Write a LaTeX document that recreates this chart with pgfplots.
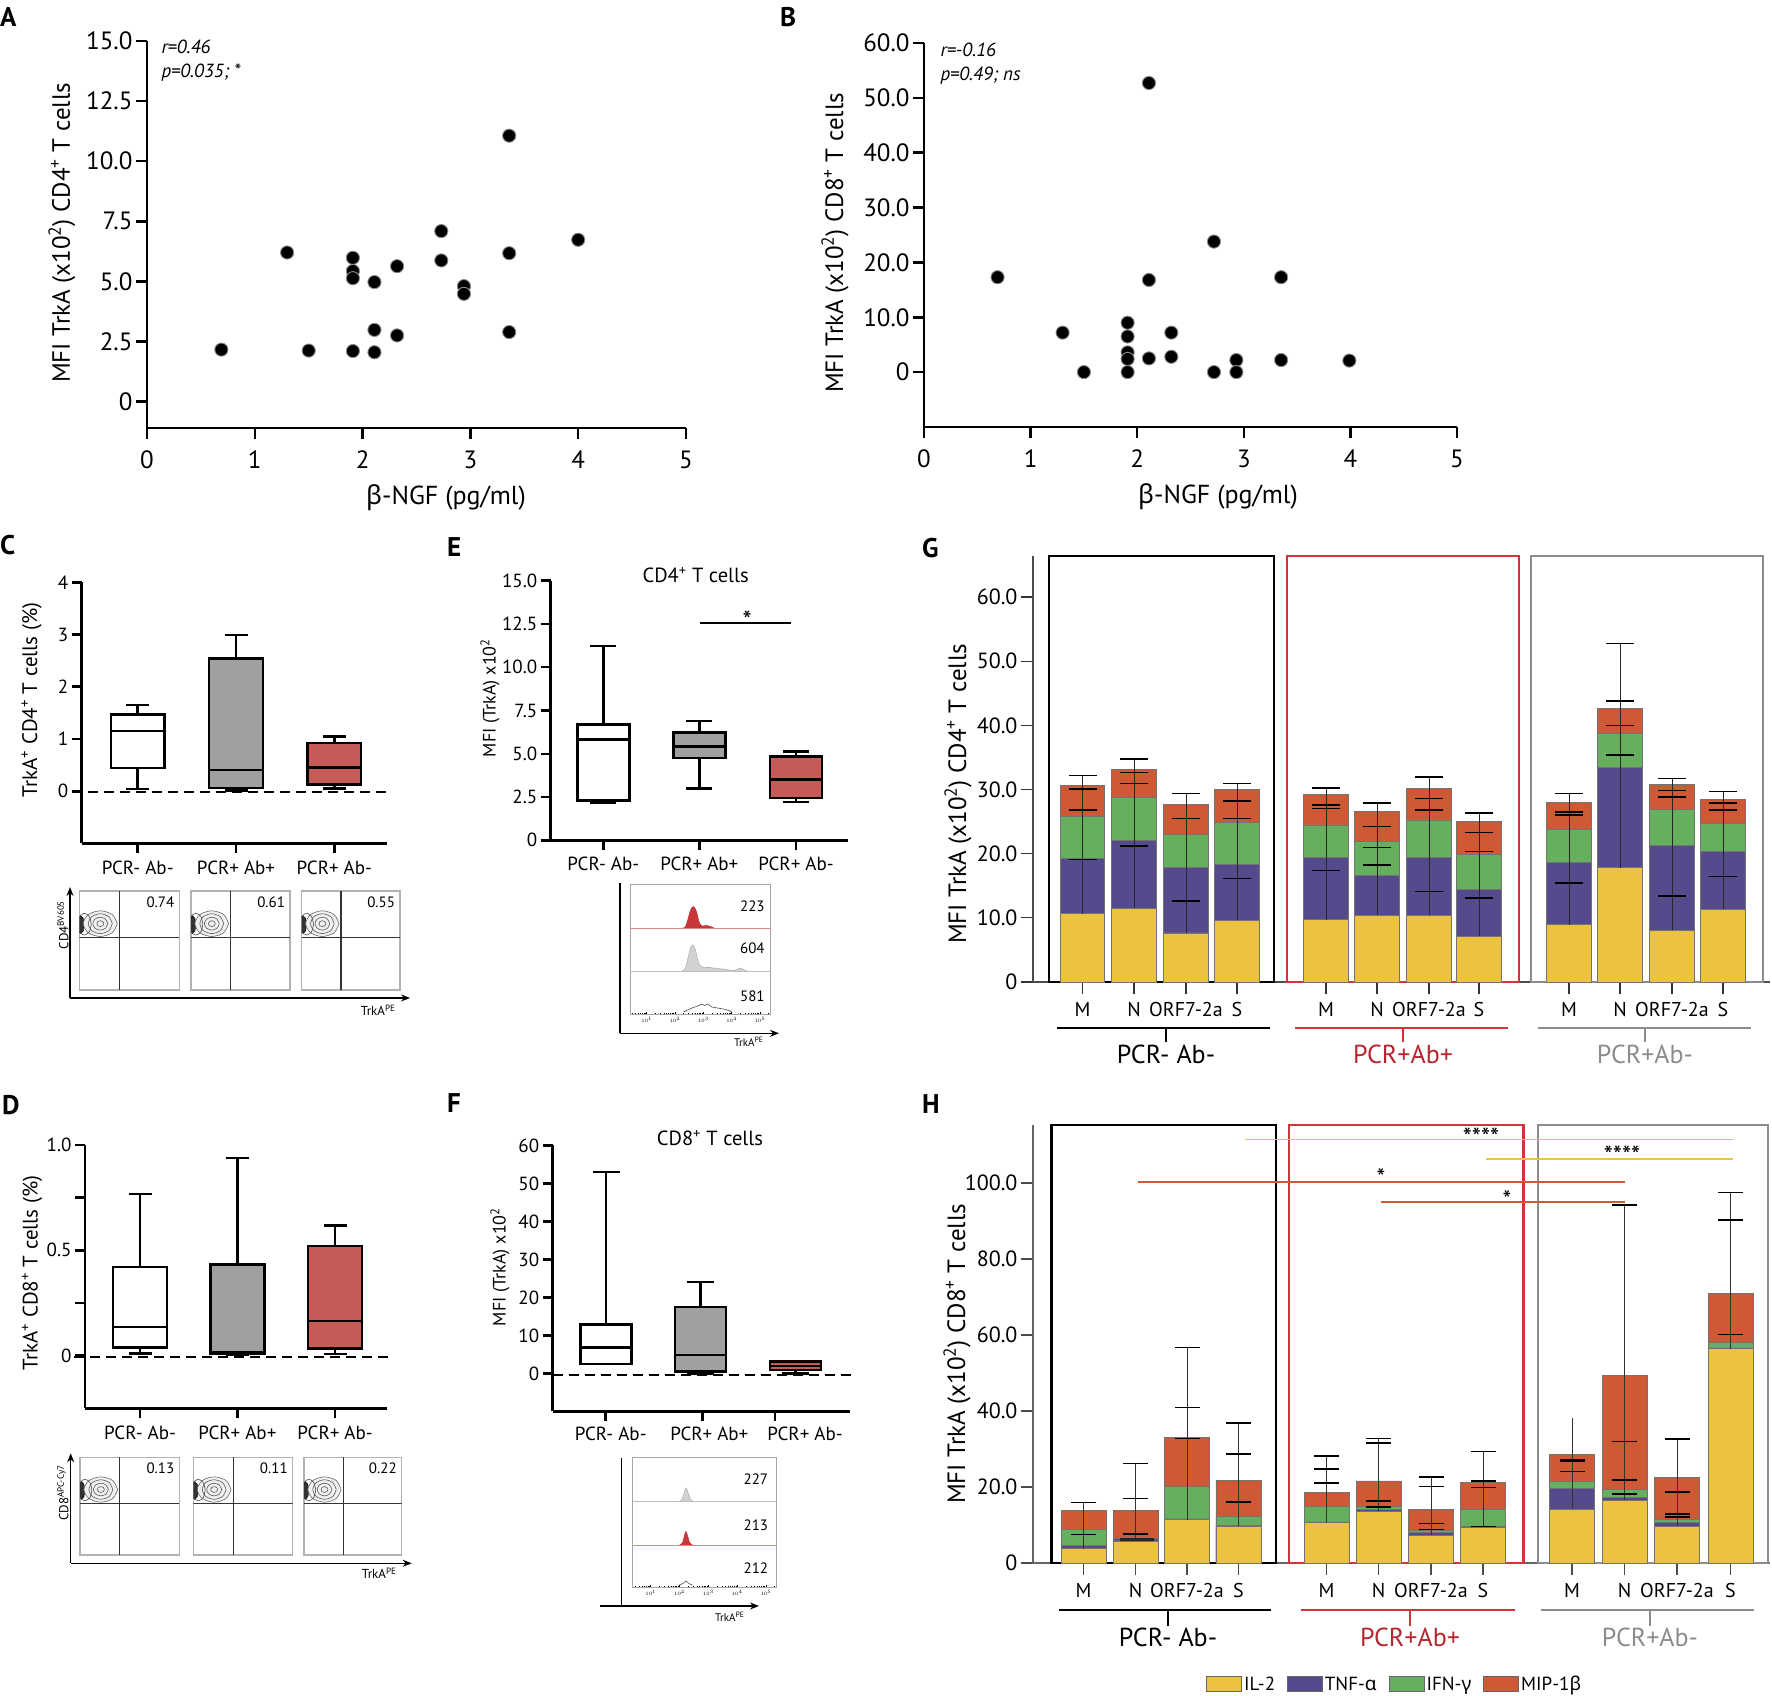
\documentclass[border=0pt]{standalone}
\usepackage{fontspec}
\setmainfont{PT Sans}
\newfontfamily\grk{Noto Sans}
\usepackage{pgfplots}
\pgfplotsset{compat=1.18}
\usepackage{pgfplotstable}
\usetikzlibrary{arrows.meta}

\definecolor{cIL}{HTML}{EBC341}
\definecolor{cTNF}{HTML}{544A8C}
\definecolor{cIFN}{HTML}{66AF5F}
\definecolor{cMIP}{HTML}{CE5A35}
\definecolor{boxred}{HTML}{C75B57}
\definecolor{boxgray}{HTML}{A0A0A0}
\definecolor{grpred}{HTML}{D2343A}
\definecolor{grpgray}{HTML}{8C8C8C}
\definecolor{lblred}{HTML}{B5262F}
\definecolor{histred}{HTML}{C8363A}

\newcommand{\fs}[1]{\fontsize{#1}{#1}\selectfont}

\pgfplotstableread{
x y
0.69 2.16
1.30 6.20
1.50 2.12
1.91 5.98
1.91 5.43
1.91 5.13
1.91 2.10
2.11 4.97
2.11 2.98
2.11 2.05
2.32 5.63
2.32 2.75
2.73 7.09
2.73 5.87
2.94 4.80
2.94 4.48
3.36 11.06
3.36 6.17
3.36 2.89
4.00 6.73
}\Adata

\pgfplotstableread{
x y
0.69 17.3
1.30 7.2
1.50 0.0
1.91 9.0
1.91 6.5
1.91 3.6
1.91 2.4
1.91 0.0
2.11 52.7
2.11 16.8
2.11 2.5
2.32 7.2
2.32 2.8
2.72 23.8
2.72 0.0
2.93 2.2
2.93 0.0
3.35 17.3
3.35 2.2
3.99 2.1
}\Bdata

\pgfplotstableread{
x il tnf ifn mip
1082.5 10.66 19.29 25.85 30.66
1134 11.48 22.02 28.74 33.06
1186 7.65 17.81 22.95 27.65
1237 9.62 18.31 24.92 29.95
1326 9.73 19.45 24.48 29.23
1377 10.44 16.67 21.86 26.56
1429 10.44 19.45 25.25 30.11
1479 7.16 14.37 19.84 25.03
1569 8.91 18.63 23.83 28.03
1620 17.81 33.39 38.69 42.62
1672 8.09 21.31 26.94 30.77
1723 11.37 20.38 24.75 28.42
}\Gbars

\pgfplotstableread{
x lo len
1082.5 10.66 21.53
1134 11.48 23.27
1186 7.65 21.75
1237 9.62 21.31
1326 9.73 20.49
1377 10.44 17.48
1429 10.44 21.53
1479 7.16 19.18
1569 8.91 20.49
1620 17.81 34.92
1672 8.09 23.66
1723 11.37 18.30
}\Glines

\pgfplotstableread{
x y
1082.5 32.19
1082.5 30.11
1082.5 26.83
1082.5 19.13
1134 34.75
1134 32.68
1134 30.93
1134 21.2
1186 29.4
1186 25.46
1186 12.62
1237 30.93
1237 28.2
1237 25.46
1237 16.12
1326 30.22
1326 27.6
1326 27.05
1326 17.38
1377 27.92
1377 24.21
1377 20.93
1377 18.2
1429 31.97
1429 28.58
1429 26.83
1429 14.1
1479 26.34
1479 23.28
1479 20.33
1479 13.11
1569 29.4
1569 26.5
1569 26.01
1569 15.46
1620 52.73
1620 43.77
1620 39.95
1620 35.41
1672 31.75
1672 29.84
1672 28.85
1672 13.44
1723 29.67
1723 27.92
1723 26.78
1723 16.45
}\Gcaps

\pgfplotstableread{
x il tnf ifn mip
1083.5 3.77 4.58 8.86 13.95
1135.5 5.8 6.52 6.6 13.95
1187 11.4 11.6 20.06 33.1
1238.4 9.67 9.88 12.2 21.8
1326.6 10.6 10.8 15.0 18.5
1378.7 13.65 14.15 14.8 21.6
1431 7.33 8.04 8.66 14.05
1483 9.37 9.57 14.15 21.3
1572 14.15 19.55 21.4 28.5
1624.5 16.5 17.2 19.25 49.3
1677 9.67 10.7 11.4 22.6
1730.5 56.4 56.6 58.0 71.0
}\Hbars

\pgfplotstableread{
x lo len
1083.5 3.77 12.22
1135.5 5.8 20.37
1187 11.4 45.3
1238.4 9.67 27.23
1326.6 10.6 17.5
1378.7 13.65 19.15
1431 7.33 15.27
1483 9.37 20.03
1572 14.15 23.95
1624.5 16.5 77.7
1677 9.67 22.93
1730.5 56.4 41.1
}\Hlines

\pgfplotstableread{
x y
1083.5 15.99
1083.5 7.54
1135.5 26.17
1135.5 17.0
1135.5 7.64
1187 56.7
1187 40.9
1187 32.8
1238.4 36.9
1238.4 28.7
1238.4 16.0
1326.6 28.1
1326.6 24.8
1326.6 21.1
1378.7 32.8
1378.7 31.6
1378.7 16.3
1378.7 14.8
1431 22.6
1431 20.1
1431 10.4
1431 8.86
1483 29.4
1483 21.6
1483 19.9
1483 9.67
1572 27.2
1572 26.8
1572 24.1
1624.5 94.2
1624.5 32.0
1624.5 21.9
1624.5 18.2
1677 32.6
1677 18.7
1677 12.9
1677 12.1
1730.5 97.5
1730.5 90.3
1730.5 60.1
}\Hcaps

\pgfplotsset{
  panel/.style={scale only axis, anchor=south west, clip=false,
    /pgf/number format/assume math mode=true,
    tick align=outside, axis x line*=bottom, axis y line*=left,
    axis line style={line width=2.5pt}, tick style={line width=2.5pt, black},
    major tick length=10pt},
  boxlegend/.style={legend image code/.code={\draw[##1] (0pt,-7.75pt) rectangle (35pt,7.75pt);}},
}

% fill, pos, lw, lq, med, uq, uw, box width, whisker cap width
\newcommand{\bp}[9]{%
\pgfmathsetmacro\bxl{#2-#8/2}\pgfmathsetmacro\bxr{#2+#8/2}%
\pgfmathsetmacro\bwl{#2-#9/2}\pgfmathsetmacro\bwr{#2+#9/2}%
\addplot[black, line width=2.5pt] coordinates {(#2,#3)(#2,#7)};
\addplot[black, line width=2.5pt] coordinates {(\bwl,#3)(\bwr,#3)};
\addplot[black, line width=2.5pt] coordinates {(\bwl,#7)(\bwr,#7)};
\addplot[fill=#1, draw=black, line width=2.5pt] coordinates {(\bxl,#4)(\bxr,#4)(\bxr,#6)(\bxl,#6)} -- cycle;
\addplot[black, line width=2.5pt] coordinates {(\bxl,#5)(\bxr,#5)};
}

\newcommand{\stackbars}[2]{%
\addplot[ybar, bar width=#2, bar shift=0pt, fill=cMIP, draw=black!55, line width=0.8pt, forget plot] table[x=x,y=mip] {#1};
\addplot[ybar, bar width=#2, bar shift=0pt, fill=cIFN, draw=black!55, line width=0.8pt, forget plot] table[x=x,y=ifn] {#1};
\addplot[ybar, bar width=#2, bar shift=0pt, fill=cTNF, draw=black!55, line width=0.8pt, forget plot] table[x=x,y=tnf] {#1};
\addplot[ybar, bar width=#2, bar shift=0pt, fill=cIL, draw=black!55, line width=0.8pt, forget plot] table[x=x,y=il] {#1};
}

\newcommand{\flowblob}{%
\addplot[fill=black!80, draw=black, line width=0.4pt] coordinates {(0.05,0.66)(0.04,0.724)(0.015,0.75)(-0.01,0.724)(-0.02,0.66)(-0.01,0.596)(0.015,0.57)(0.04,0.596)(0.05,0.66)};
\addplot[draw=black!60, fill=black!6, line width=0.6pt, smooth] coordinates {(0.38,0.67)(0.330,0.762)(0.21,0.80)(0.090,0.762)(0.04,0.67)(0.090,0.578)(0.21,0.54)(0.330,0.578)(0.38,0.67)};
\addplot[draw=black!65, line width=0.6pt, smooth] coordinates {(0.33,0.67)(0.295,0.741)(0.21,0.77)(0.125,0.741)(0.09,0.67)(0.125,0.599)(0.21,0.57)(0.295,0.599)(0.33,0.67)};
\addplot[draw=black!65, line width=0.6pt, smooth] coordinates {(0.285,0.67)(0.263,0.716)(0.21,0.735)(0.157,0.716)(0.135,0.67)(0.157,0.624)(0.21,0.605)(0.263,0.624)(0.285,0.67)};
\addplot[draw=black!65, line width=0.6pt, smooth] coordinates {(0.245,0.67)(0.235,0.691)(0.21,0.70)(0.185,0.691)(0.175,0.67)(0.185,0.649)(0.21,0.64)(0.235,0.649)(0.245,0.67)};
\addplot[draw=black!70, line width=0.6pt, smooth] coordinates {(0.12,0.665)(0.10,0.743)(0.05,0.775)(0.0,0.743)(-0.02,0.665)(0.0,0.587)(0.05,0.555)(0.10,0.587)(0.12,0.665)};
}

% x, y, w, h, number, horizontal quadrant line
\newcommand{\flowaxis}[6]{%
\begin{axis}[scale only axis, anchor=south west, at={(#1pt,#2pt)}, width=#3pt, height=#4pt,
  xmin=0, xmax=1, ymin=0, ymax=1, xtick=\empty, ytick=\empty,
  axis line style={draw=gray!60, line width=1.2pt}]
\flowblob
\addplot[black!80, line width=1.1pt] coordinates {(0.4,0) (0.4,1)};
\addplot[black!80, line width=1.1pt] coordinates {(0,#6) (1,#6)};
\node[anchor=east, font=\fs{15}] at (axis cs:0.985,0.89) {#5};
\end{axis}}

\pgfplotsset{histstyle/.style={scale only axis, anchor=south west, ytick=\empty,
  xtick={1,2,3,4,5}, xticklabels={$10^1$,$10^2$,$10^3$,$10^4$,$10^5$},
  xtick pos=bottom, tick align=inside, major tick length=3pt, minor tick length=1.5pt,
  minor xtick={0.477,0.602,0.699,0.778,0.845,0.903,0.954,1.301,1.477,1.602,1.699,1.778,1.845,1.903,1.954,2.301,2.477,2.602,2.699,2.778,2.845,2.903,2.954,3.301,3.477,3.602,3.699,3.778,3.845,3.903,3.954,4.301,4.477,4.602,4.699,4.778,4.845,4.903,4.954,5.301},
  xticklabel style={font=\fs{5}, yshift=1pt},
  axis line style={draw=gray!70, line width=1pt}, tick style={black, line width=0.5pt}}}

\begin{document}
\begin{tikzpicture}
\useasboundingbox (0pt,0pt) rectangle (1772pt,1696pt);

% ---------------- Panel letters
\foreach \L/\X/\Y in {A/0/1689, B/780/1689, C/0/1161, D/2/601, E/447/1159, F/447/603, G/922/1158, H/922/602}
  \node[anchor=north west, inner sep=0pt, font=\bfseries\fs{27}] at (\X pt,\Y pt) {\L};

% ---------------- A
\begin{axis}[panel, at={(147pt,1268pt)}, width=539pt, height=387pt,
  xmin=0, xmax=5, ymin=-1.1, ymax=15,
  xtick={0,1,2,3,4,5}, ytick={0,2.5,5,7.5,10,12.5,15},
  yticklabels={0,2.5,5.0,7.5,10.0,12.5,15.0},
  major tick length=11pt, tick label style={font=\fs{25}}, xticklabel style={yshift=-8pt}]
\addplot[only marks, mark=*, mark size=6.6pt, mark options={fill=black, draw=black!45, line width=0.9pt}] table {\Adata};
\end{axis}
\node[rotate=90, font=\fs{25}] at (62pt,1463pt) {MFI TrkA (x10\textsuperscript{2}) CD4\textsuperscript{+} T cells};
\node[font=\fs{26}] at (446pt,1198.5pt) {{\grk β}-NGF (pg/ml)};
\node[anchor=west, font=\fs{19}\itshape] at (158pt,1649pt) {r=0.46};
\node[anchor=west, font=\fs{19}\itshape] at (158pt,1623pt) {p=0.035; *};

% ---------------- B
\begin{axis}[panel, at={(924pt,1269pt)}, width=533pt, height=384pt,
  xmin=0, xmax=5, ymin=-10, ymax=60,
  xtick={0,1,2,3,4,5}, ytick={0,10,20,30,40,50,60},
  yticklabels={0,10.0,20.0,30.0,40.0,50.0,60.0},
  major tick length=11pt, tick label style={font=\fs{25}}, xticklabel style={yshift=-8pt}]
\addplot[only marks, mark=*, mark size=6.6pt, mark options={fill=black, draw=black!45, line width=0.9pt}] table {\Bdata};
\end{axis}
\node[rotate=90, font=\fs{25}] at (835pt,1453pt) {MFI TrkA (x10\textsuperscript{2}) CD8\textsuperscript{+} T cells};
\node[font=\fs{26}] at (1218pt,1199.5pt) {{\grk β}-NGF (pg/ml)};
\node[anchor=west, font=\fs{19}\itshape] at (937pt,1646pt) {r=-0.16};
\node[anchor=west, font=\fs{19}\itshape] at (937pt,1620pt) {p=0.49; ns};

% ---------------- C
\begin{axis}[panel, at={(81.7pt,852.7pt)}, width=305pt, height=261pt,
  xmin=0, xmax=305, ymin=-1, ymax=4,
  xtick={56,154.3,252.6}, xticklabels={PCR- Ab-,PCR+ Ab+,PCR+ Ab-},
  ytick={0,1,2,3,4}, tick label style={font=\fs{19}}, xticklabel style={yshift=-4pt}]
\addplot[black, line width=2pt, dash pattern=on 10pt off 6pt] coordinates {(-10,-0.02) (305,-0.02)};
\bp{white}{56}{0.04}{0.44}{1.15}{1.47}{1.65}{53.7}{23}
\bp{boxgray}{154.3}{0.01}{0.06}{0.40}{2.54}{2.99}{53.7}{23}
\bp{boxred}{252.6}{0.045}{0.13}{0.455}{0.92}{1.05}{53.7}{23}
\end{axis}
\node[rotate=90, font=\fs{21}] at (31.7pt,996pt) {TrkA\textsuperscript{+} CD4\textsuperscript{+} T cells (\%)};
\flowaxis{79.3}{706}{100}{99}{0.74}{0.532}
\flowaxis{191}{706}{99}{99}{0.61}{0.532}
\flowaxis{301.7}{706}{98.3}{99}{0.55}{0.532}
\draw[line width=1.2pt, -{Stealth[length=9pt,width=7pt]}] (70pt,698pt) -- (70pt,809pt);
\draw[line width=1.2pt, -{Stealth[length=9pt,width=7pt]}] (70pt,698pt) -- (410pt,698pt);
\node[rotate=90, font=\fs{13}] at (63pt,771pt) {CD4\textsuperscript{BV605}};
\node[anchor=east, font=\fs{13}] at (399pt,686pt) {TrkA\textsuperscript{PE}};

% ---------------- D
\begin{axis}[panel, at={(85pt,287.7pt)}, width=301.7pt, height=263.3pt,
  xmin=0, xmax=301.7, ymin=-0.25, ymax=1.0,
  xtick={55,152.3,250}, xticklabels={PCR- Ab-,PCR+ Ab+,PCR+ Ab-},
  ytick={0,0.25,0.5,0.75,1}, yticklabels={0,,0.5,,1.0}, tick label style={font=\fs{19}},
  xticklabel style={yshift=-4pt}]
\addplot[black, line width=2pt, dash pattern=on 10pt off 6pt] coordinates {(-11,-0.005) (303,-0.005)};
\bp{white}{55}{0.011}{0.038}{0.137}{0.42}{0.767}{54}{23}
\bp{boxgray}{152.3}{0.003}{0.011}{0.016}{0.433}{0.938}{54}{23}
\bp{boxred}{250}{0.008}{0.033}{0.164}{0.52}{0.617}{54}{23}
\end{axis}
\node[rotate=90, font=\fs{21}] at (32pt,423pt) {TrkA\textsuperscript{+} CD8\textsuperscript{+} T cells (\%)};
\flowaxis{80}{141}{99.3}{97.7}{0.13}{0.53}
\flowaxis{193.3}{141}{99.4}{97.7}{0.11}{0.53}
\flowaxis{304}{141}{97.7}{97.7}{0.22}{0.53}
\draw[line width=1.2pt, -{Stealth[length=9pt,width=7pt]}] (70.7pt,132.7pt) -- (70.7pt,242.7pt);
\draw[line width=1.2pt, -{Stealth[length=9pt,width=7pt]}] (70.7pt,132.7pt) -- (411.7pt,132.7pt);
\node[rotate=90, font=\fs{13}] at (63pt,203pt) {CD8\textsuperscript{APC-Cy7}};
\node[anchor=east, font=\fs{13}] at (400pt,123pt) {TrkA\textsuperscript{PE}};

% ---------------- E
\begin{axis}[panel, at={(550.7pt,855.7pt)}, width=297pt, height=259.6pt,
  xmin=0, xmax=297, ymin=0, ymax=15,
  xtick={52.6,148.6,245.3}, xticklabels={PCR- Ab-,PCR+ Ab+,PCR+ Ab-},
  ytick={0,2.5,5,7.5,10,12.5,15}, yticklabels={0,2.5,5.0,7.5,10.0,12.5,15.0},
  tick label style={font=\fs{19}}, xticklabel style={yshift=-3pt}]
\bp{white}{52.6}{2.16}{2.29}{5.82}{6.68}{11.23}{52}{26}
\bp{boxgray}{148.6}{3.0}{4.76}{5.41}{6.24}{6.89}{52}{26}
\bp{boxred}{245.3}{2.21}{2.43}{3.52}{4.83}{5.12}{52}{26}
\draw[line width=2pt] (axis cs:149.3,12.54) -- (axis cs:240.3,12.54);
\node[anchor=base, font=\fs{26}] at (axis cs:196.6,12.2) {*};
\end{axis}
\node[rotate=90, font=\fs{18}] at (490pt,998pt) {MFI (TrkA) x10\textsuperscript{2}};
\node[font=\fs{20.5}] at (695.7pt,1121pt) {CD4\textsuperscript{+} T cells};
\begin{axis}[histstyle, at={(630pt,681pt)}, width=140.7pt, height=130.7pt,
  xmin=0.41, xmax=5.38, ymin=0, ymax=130.7]
\addplot[fill=histred, draw=histred, line width=0.6pt, smooth] coordinates {(2.2,86.7)(2.35,87.5)(2.45,95)(2.55,105)(2.65,108.4)(2.75,104)(2.85,93)(2.95,89)(3.1,89.5)(3.25,88.5)(3.4,86.7)};
\addplot[draw=histred!60, line width=0.8pt] coordinates {(0.41,86.7)(5.38,86.7)};
\addplot[fill=gray!35, draw=gray!60, line width=0.6pt, smooth] coordinates {(2.2,43.3)(2.35,46)(2.45,56)(2.55,67)(2.63,70)(2.72,65)(2.82,53)(2.95,48)(3.2,47.5)(3.5,46.5)(3.8,45.5)(4.1,44.5)(4.3,47)(4.45,45)(4.6,43.3)};
\addplot[draw=gray!50, line width=0.8pt] coordinates {(0.41,43.3)(5.38,43.3)};
\addplot[draw=black!70, line width=0.6pt, smooth] coordinates {(2.3,3)(2.45,5)(2.6,7)(2.8,9)(2.95,11)(3.05,9.5)(3.15,11)(3.3,8)(3.5,7)(3.7,6)(3.9,4.5)(4.0,3)};
\node[anchor=east, font=\fs{15}] at (axis cs:5.29,108.3) {223};
\node[anchor=east, font=\fs{15}] at (axis cs:5.29,66.7) {604};
\node[anchor=east, font=\fs{15}] at (axis cs:5.29,18.3) {581};
\end{axis}
\draw[line width=1.2pt] (620pt,662.7pt) -- (620pt,813pt);
\draw[line width=1.2pt, -{Stealth[length=9pt,width=7pt]}] (620pt,662.7pt) -- (779pt,662.7pt);
\node[anchor=east, font=\fs{11}] at (767pt,654pt) {TrkA\textsuperscript{PE}};

% ---------------- F
\begin{axis}[panel, at={(552.7pt,284.6pt)}, width=297.3pt, height=266pt,
  xmin=0, xmax=297.3, ymin=-10, ymax=60,
  xtick={58,156.6,252.3}, xticklabels={PCR- Ab-,PCR+ Ab+,PCR+ Ab-},
  xtick style={draw=none},
  ytick={0,10,20,30,40,50,60}, tick label style={font=\fs{19}}, xticklabel style={yshift=-2pt}]
\draw[line width=2.5pt] (axis cs:53,-10) -- ++(0pt,-10pt);
\draw[line width=2.5pt] (axis cs:149.6,-10) -- ++(0pt,-10pt);
\draw[line width=2.5pt] (axis cs:222.3,-10) -- ++(0pt,-10pt);
\addplot[black, line width=2pt, dash pattern=on 10pt off 6pt] coordinates {(0,-0.3) (302,-0.3)};
\bp{white}{53.3}{2.5}{2.53}{6.84}{12.9}{52.95}{51}{27}
\bp{boxgray}{147.6}{0.0}{0.47}{4.87}{17.5}{24.1}{51}{27}
\bp{boxred}{243}{0.0}{0.94}{1.95}{3.1}{3.28}{51}{27}
\end{axis}
\node[rotate=90, font=\fs{18}] at (500pt,429pt) {MFI (TrkA) x10\textsuperscript{2}};
\node[font=\fs{20.5}] at (710pt,558pt) {CD8\textsuperscript{+} T cells};
\begin{axis}[histstyle, at={(632.7pt,108pt)}, width=143.3pt, height=130.1pt,
  xmin=0.375, xmax=5.35, ymin=0, ymax=130.1]
\addplot[fill=gray!35, draw=gray!60, line width=0.6pt, smooth] coordinates {(1.95,86.2)(2.08,88)(2.16,95)(2.23,99.8)(2.3,95)(2.38,88.5)(2.5,86.2)};
\addplot[draw=gray!50, line width=0.8pt] coordinates {(0.375,86.2)(5.35,86.2)};
\addplot[fill=histred, draw=histred, line width=0.6pt, smooth] coordinates {(1.98,42.6)(2.1,45)(2.17,52)(2.22,56.6)(2.28,52)(2.36,45)(2.48,42.6)};
\addplot[draw=histred!60, line width=0.8pt] coordinates {(0.375,42.6)(5.35,42.6)};
\addplot[draw=black!70, line width=0.6pt, smooth] coordinates {(2.0,3)(2.12,4.5)(2.22,7)(2.32,4.5)(2.45,3)};
\node[anchor=east, font=\fs{15}] at (axis cs:5.2,109) {227};
\node[anchor=east, font=\fs{15}] at (axis cs:5.2,63) {213};
\node[anchor=east, font=\fs{15}] at (axis cs:5.2,20) {212};
\end{axis}
\draw[line width=1.2pt] (621.7pt,90pt) -- (621.7pt,238pt);
\draw[line width=1.2pt, -{Stealth[length=9pt,width=7pt]}] (600pt,90pt) -- (759pt,90pt);
\node[anchor=east, font=\fs{11}] at (748pt,79pt) {TrkA\textsuperscript{PE}};

% ---------------- G
\begin{axis}[panel, at={(1033pt,714pt)}, width=737pt, height=426pt,
  xmin=1033, xmax=1770, ymin=0, ymax=66.4,
  axis line style={line width=1.8pt, black!70}, tick style={line width=1.3pt, black!80}, major tick length=12pt,
  xtick={1082.5,1134,1186,1237,1326,1377,1429,1479,1569,1620,1672,1723},
  xticklabels={M,N,ORF7-2a,S,M,N,ORF7-2a,S,M,N,ORF7-2a,S},
  ytick={0,10,20,30,40,50,60}, yticklabels={0,10.0,20.0,30.0,40.0,50.0,60.0},
  xticklabel style={font=\fs{20}, yshift=-5pt}, yticklabel style={font=\fs{22}}]
\draw[line width=2.2pt, black] (axis cs:1049,0) rectangle (axis cs:1274,66.4);
\draw[line width=2.2pt, grpred] (axis cs:1287,0) rectangle (axis cs:1519,66.4);
\draw[line width=2.2pt, grpgray] (axis cs:1531,0) rectangle (axis cs:1763,66.4);
\stackbars{\Gbars}{44.5}
\addplot[forget plot, draw=none, mark=none, error bars/.cd, y dir=plus, y explicit, error mark=none,
  error bar style={draw=black!85, line width=1pt}] table[x=x, y=lo, y error=len] {\Glines};
\addplot[forget plot, only marks, mark=-, mark size=14pt, mark options={draw=black, line width=1.5pt}] table[x=x,y=y] {\Gcaps};
\draw[line width=2pt, black] (axis cs:1057,-7.17) -- (axis cs:1270,-7.17);
\draw[line width=2pt, black] (axis cs:1166,-7.17) -- (axis cs:1166,-9.35);
\node[font=\fs{26}] at (axis cs:1166,-11.3) {PCR- Ab-};
\draw[line width=2pt, grpred] (axis cs:1295,-7.17) -- (axis cs:1508,-7.17);
\draw[line width=2pt, grpred] (axis cs:1403,-7.17) -- (axis cs:1403,-9.35);
\node[font=\fs{26}, text=lblred] at (axis cs:1403,-11.3) {PCR+Ab+};
\draw[line width=2pt, grpgray] (axis cs:1538,-7.17) -- (axis cs:1751,-7.17);
\draw[line width=2pt, grpgray] (axis cs:1645,-7.17) -- (axis cs:1645,-9.35);
\node[font=\fs{26}, text=grpgray] at (axis cs:1645,-11.3) {PCR+Ab-};
\end{axis}
\node[rotate=90, font=\fs{25}] at (958pt,902pt) {MFI TrkA (x10\textsuperscript{2}) CD4\textsuperscript{+} T cells};

% ---------------- H
\begin{axis}[panel, at={(1033pt,133pt)}, width=737pt, height=438pt,
  xmin=1033, xmax=1770, ymin=0, ymax=115.3,
  axis line style={line width=1.8pt, black!60}, tick style={line width=1.3pt, black!70}, major tick length=12pt,
  xtick={1083.5,1135.5,1187,1238.4,1326.6,1378.7,1431,1483,1572,1624.5,1677,1730.5},
  xticklabels={M,N,ORF7-2a,S,M,N,ORF7-2a,S,M,N,ORF7-2a,S},
  ytick={0,20,40,60,80,100}, yticklabels={0,20.0,40.0,60.0,80.0,100.0},
  xticklabel style={font=\fs{20}, yshift=-5pt}, yticklabel style={font=\fs{22}},
  legend style={at={(0.4908,-0.2763)}, anchor=center, draw=none, fill=none,
    legend columns=4, font=\fs{19}, /tikz/every even column/.append style={column sep=10pt}},
  legend cell align=left]
\draw[line width=2.2pt, black] (axis cs:1051.5,0) rectangle (axis cs:1276,115.3);
\draw[line width=2.2pt, grpred] (axis cs:1289,0) rectangle (axis cs:1523.5,115.3);
\draw[line width=2.2pt, grpgray] (axis cs:1538,0) rectangle (axis cs:1768,115.3);
\stackbars{\Hbars}{45}
\addplot[forget plot, draw=none, mark=none, error bars/.cd, y dir=plus, y explicit, error mark=none,
  error bar style={draw=black!80, line width=1pt}] table[x=x, y=lo, y error=len] {\Hlines};
\addplot[forget plot, only marks, mark=-, mark size=12.5pt, mark options={draw=black, line width=1.5pt}] table[x=x,y=y] {\Hcaps};
\addplot[forget plot, only marks, mark=-, mark size=17pt, mark options={draw=black!85, line width=3pt}] coordinates {(1137,6.3)};
% significance
\draw[cIL, line width=1.3pt] (axis cs:1245,111.4) -- (axis cs:1734,111.4);
\node[anchor=base, font=\fs{26}] at (axis cs:1481,109.6) {****};
\draw[cIL, line width=2pt] (axis cs:1486,106.4) -- (axis cs:1733,106.4);
\node[anchor=base, font=\fs{26}] at (axis cs:1622,105.0) {****};
\draw[cMIP, line width=2pt] (axis cs:1138,100.4) -- (axis cs:1625,100.4);
\node[anchor=base, font=\fs{25}] at (axis cs:1381,99.1) {*};
\draw[cMIP, line width=2pt] (axis cs:1381,95.0) -- (axis cs:1625,95.0);
\node[anchor=base, font=\fs{25}] at (axis cs:1507,93.3) {*};
% group annotations
\draw[line width=2pt, black] (axis cs:1059,-12.45) -- (axis cs:1271,-12.45);
\draw[line width=2pt, black] (axis cs:1168,-12.45) -- (axis cs:1168,-16.5);
\node[font=\fs{26}] at (axis cs:1168,-19.6) {PCR- Ab-};
\draw[line width=2pt, grpred] (axis cs:1301,-12.45) -- (axis cs:1515,-12.45);
\draw[line width=2pt, grpred] (axis cs:1410,-12.45) -- (axis cs:1410,-16.5);
\node[font=\fs{26}, text=lblred] at (axis cs:1410,-19.6) {PCR+Ab+};
\draw[line width=2pt, grpgray] (axis cs:1541,-12.45) -- (axis cs:1754,-12.45);
\draw[line width=2pt, grpgray] (axis cs:1650,-12.45) -- (axis cs:1650,-16.5);
\node[font=\fs{26}, text=grpgray] at (axis cs:1650,-19.6) {PCR+Ab-};
% legend
\addlegendimage{fill=cIL, draw=black!60, line width=0.8pt, boxlegend}
\addlegendentry{IL-2}
\addlegendimage{fill=cTNF, draw=black!60, line width=0.8pt, boxlegend}
\addlegendentry{TNF-{\grk α}}
\addlegendimage{fill=cIFN, draw=black!60, line width=0.8pt, boxlegend}
\addlegendentry{IFN-{\grk γ}}
\addlegendimage{fill=cMIP, draw=black!60, line width=0.8pt, boxlegend}
\addlegendentry{MIP-1{\grk β}}
\end{axis}
\node[rotate=90, font=\fs{25}] at (957pt,342pt) {MFI TrkA (x10\textsuperscript{2}) CD8\textsuperscript{+} T cells};

\end{tikzpicture}
\end{document}
